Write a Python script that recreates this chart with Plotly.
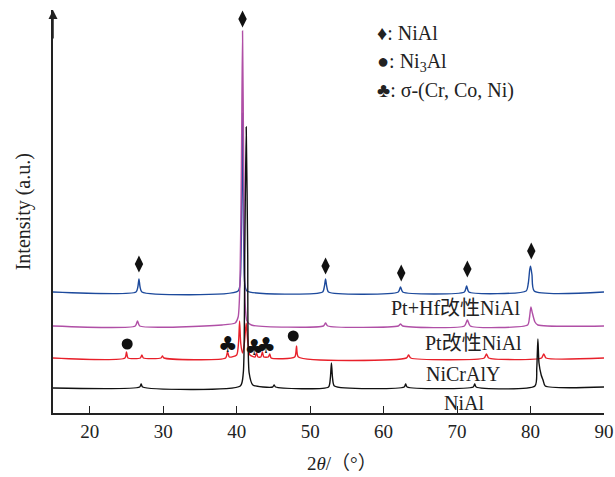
import plotly.graph_objects as go

# ---- data (2θ in degrees, intensity in arbitrary units incl. vertical offset) ----
blue_x = [15, 26.3, 26.55, 26.7, 26.85, 27.1, 40.2, 40.5, 40.7, 40.8, 40.9, 41.1, 41.4,
          51.7, 51.95, 52.1, 52.25, 52.5, 62.0, 62.3, 62.6, 71.0, 71.3, 71.6,
          79.4, 79.7, 79.9, 80.0, 80.2, 80.5, 90]
blue_y = [121, 121, 126, 134, 126, 121, 122, 135, 220, 300, 220, 130, 122,
          121, 127, 134, 127, 121, 121, 126, 121, 121, 127, 121,
          122, 130, 144, 147, 138, 122, 121]

purple_x = [15, 26.2, 26.5, 26.8, 38.0, 39.8, 40.2, 40.45, 40.65, 40.8, 40.95, 41.15, 41.4, 42.0,
            51.8, 52.1, 52.4, 62.0, 62.3, 62.6, 71.0, 71.4, 71.8,
            79.6, 79.85, 80.05, 80.25, 80.6, 81.0, 90]
purple_y = [87, 87, 92, 87, 88, 90, 96, 130, 250, 382, 250, 110, 92, 88,
            87, 90, 87, 87, 89, 87, 87, 93, 87,
            88, 95, 106, 100, 91, 88, 87]

red_x = [15, 24.8, 25.0, 25.2, 26.9, 27.1, 27.3, 29.7, 29.9, 30.1, 38.5, 38.75, 39.0,
         40.0, 40.25, 40.4, 40.55, 40.8, 41.05, 41.3, 41.55, 41.8,
         42.5, 42.7, 42.9, 43.3, 43.5, 43.7, 44.3, 44.5, 44.7, 47.9, 48.15, 48.4,
         63.1, 63.4, 63.7, 73.7, 74.0, 74.3, 81.5, 81.8, 82.1, 90]
red_y = [55, 55, 61, 55, 55, 58, 55, 55, 57, 55, 55, 61, 56,
         58, 70, 92, 70, 60, 70, 90, 68, 58,
         56, 60, 56, 56, 61, 56, 56, 59, 55, 56, 67, 56,
         55, 58, 55, 55, 59, 55, 55, 59, 55, 55]

black_x = [15, 26.8, 27.0, 27.2, 40.5, 40.9, 41.1, 41.3, 41.5, 41.7, 42.2, 44.9, 45.1, 45.3,
           52.5, 52.75, 52.9, 53.05, 53.3, 62.8, 63.0, 63.2, 72.2, 72.4, 72.6,
           80.6, 80.85, 81.0, 81.15, 81.45, 81.7, 82.0, 90]
black_y = [25, 26, 29, 26, 27, 40, 160, 286, 160, 40, 28, 26, 28, 26,
           26, 35, 50, 35, 27, 26, 29, 26, 26, 29, 26,
           27, 45, 74, 50, 38, 33, 27, 26]

# phase markers
diamond_x = [40.8, 26.7, 52.1, 62.4, 71.4, 80.1]
diamond_y = [394, 149, 147, 140, 144, 162]
circle_x = [25.1, 47.7]
circle_y = [69, 77]
club_x = [38.8, 42.4, 44.0]
club_y = [67, 64, 66]

# curve labels
label_text = ["Pt+Hf改性NiAl", "Pt改性NiAl", "NiCrAlY", "NiAl"]
label_x = [69.9, 72.3, 70.8, 71.0]
label_y = [105, 70, 39, 10]

legend_text = ["♦: NiAl", "●: Ni<sub>3</sub>Al", "♣: σ-(Cr, Co, Ni)"]
legend_y = [380, 351, 323]
legend_x = 58.8

x_ticks = [20, 30, 40, 50, 60, 70, 80, 90]

FONT = "Liberation Serif, Times New Roman, Noto Sans CJK SC, serif"

fig = go.Figure()
series = [
    (blue_x, blue_y, "#1d4a9c"),
    (purple_x, purple_y, "#b04fa6"),
    (red_x, red_y, "#e8202a"),
    (black_x, black_y, "#111111"),
]
for xs, ys, c in series:
    fig.add_trace(go.Scatter(x=xs, y=ys, mode="lines",
                             line=dict(color=c, width=1.4, shape="spline", smoothing=0.6),
                             showlegend=False, hoverinfo="skip"))

fig.add_trace(go.Scatter(x=diamond_x, y=diamond_y, mode="markers",
                         marker=dict(symbol="diamond-tall", size=12, color="#111111"),
                         showlegend=False))
fig.add_trace(go.Scatter(x=circle_x, y=circle_y, mode="markers",
                         marker=dict(symbol="circle", size=11, color="#111111"),
                         showlegend=False))
fig.add_trace(go.Scatter(x=club_x, y=club_y, mode="text", text=["♣"] * len(club_x),
                         textfont=dict(size=22, color="#111111", family="DejaVu Sans"),
                         showlegend=False))

annotations = []
for t, xx, yy in zip(label_text, label_x, label_y):
    annotations.append(dict(x=xx, y=yy, text=t, showarrow=False, xanchor="center",
                            yanchor="middle", font=dict(size=20, family=FONT, color="#222")))
for t, yy in zip(legend_text, legend_y):
    annotations.append(dict(x=legend_x, y=yy, text=t, showarrow=False, xanchor="left",
                            yanchor="middle", font=dict(size=20, family=FONT, color="#222")))
# axis titles
annotations.append(dict(xref="paper", yref="paper", x=0.524, y=-0.125, text="2<i>θ</i>/（°）",
                        showarrow=False, xanchor="center", yanchor="middle",
                        font=dict(size=19, family=FONT, color="#222")))
annotations.append(dict(xref="paper", yref="paper", x=-0.053, y=0.50, text="Intensity (a.u.)",
                        showarrow=False, textangle=-90, xanchor="center", yanchor="middle",
                        font=dict(size=20, family=FONT, color="#222")))
# y-axis arrow
annotations.append(dict(xref="paper", yref="paper", x=0, y=1, ax=0, ay=30, text="",
                        showarrow=True, arrowhead=2, arrowsize=1.2, arrowwidth=1.5,
                        arrowcolor="#222"))

fig.update_layout(
    width=615, height=477,
    margin=dict(l=53, r=11, t=10, b=64),
    paper_bgcolor="white", plot_bgcolor="white",
    annotations=annotations,
    xaxis=dict(range=[15, 90], tickvals=x_ticks, ticks="inside", ticklen=7, tickwidth=1.3,
               tickcolor="#222", showline=True, linecolor="#222", linewidth=1.5,
               showgrid=False, zeroline=False, ticklabeloverflow="allow", automargin=False,
               tickfont=dict(size=19, family=FONT, color="#222")),
    yaxis=dict(range=[0, 403], showticklabels=False, ticks="", showline=True,
               linecolor="#222", linewidth=1.5, showgrid=False, zeroline=False,
               automargin=False),
)

fig.write_html("out.html")
